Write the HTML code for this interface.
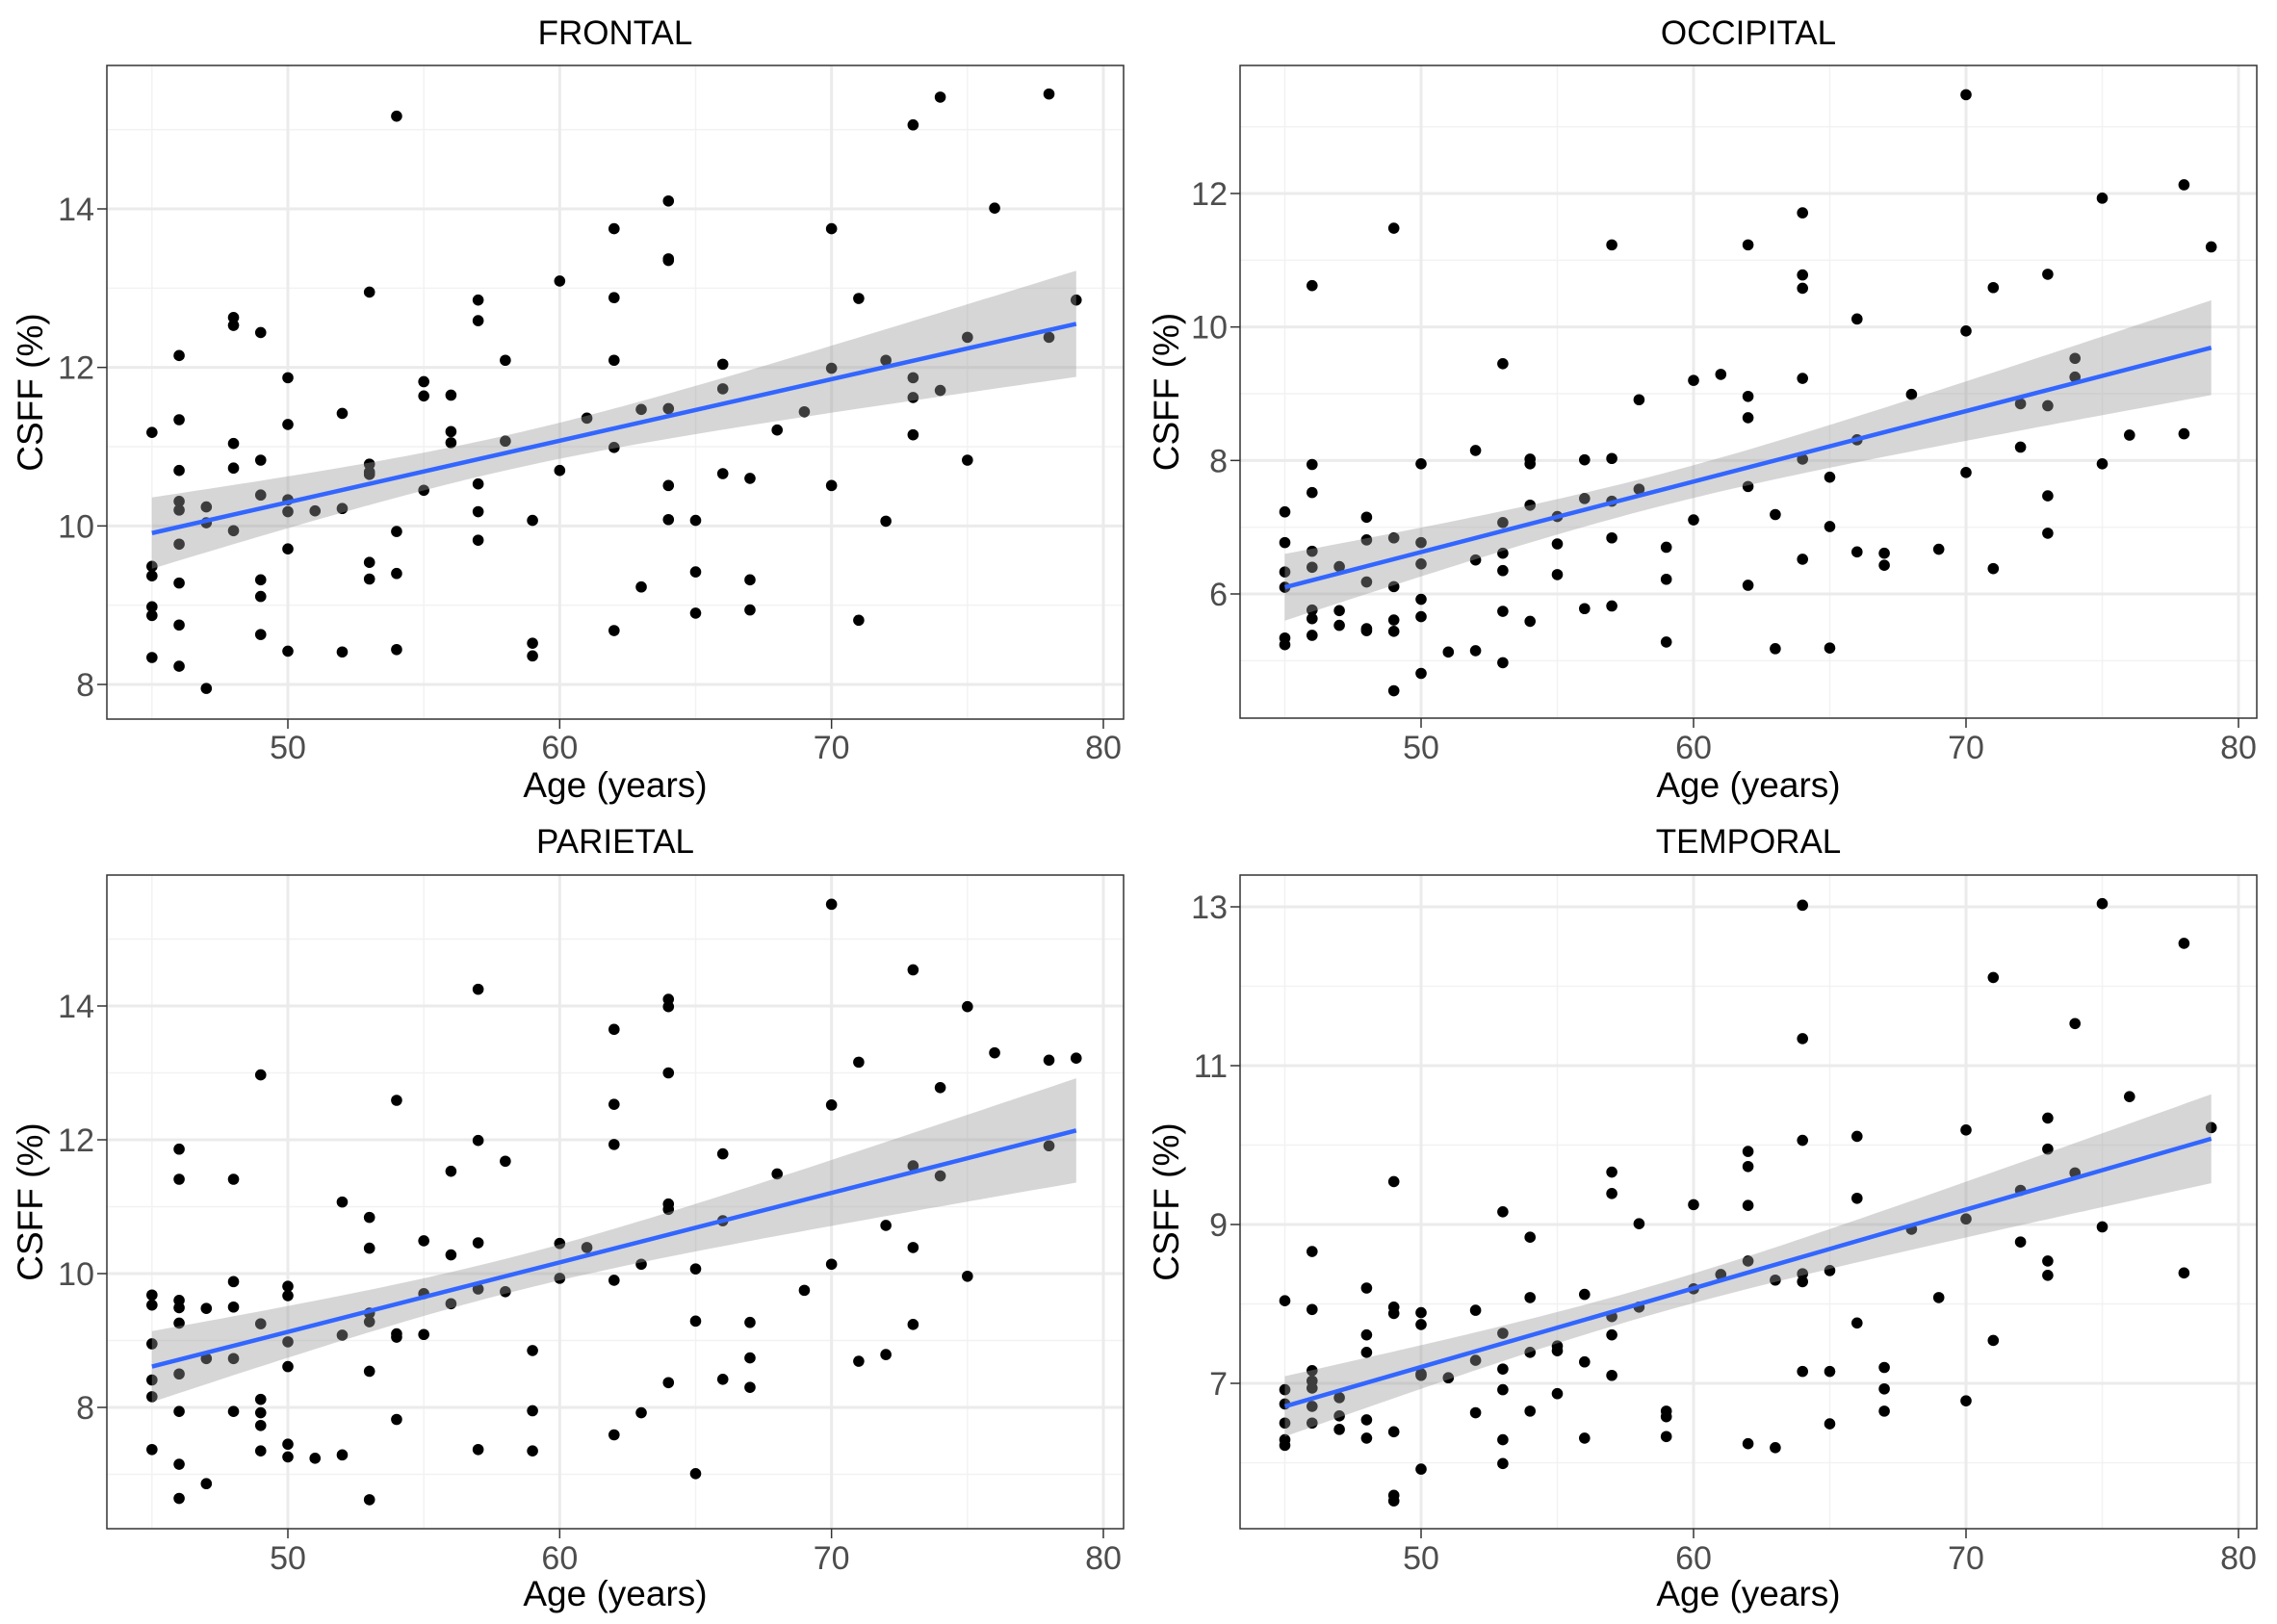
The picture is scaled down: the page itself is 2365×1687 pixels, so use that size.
<!DOCTYPE html>
<html><head><meta charset="utf-8"><style>
html,body{margin:0;padding:0;background:#fff;}
svg{display:block;font-family:"Liberation Sans",Arial,sans-serif;}
</style></head><body>
<svg id="fig" width="2365" height="1687" xmlns="http://www.w3.org/2000/svg"></svg>
<script>
// ---------- DATA ----------
const xTicks = [50, 60, 70, 80];
const xMinor = [45, 55, 65, 75];

const frontalAges = [45,45,45,45,45,45, 46,46,46,46,46,46,46,46,46, 47,47,47, 48,48,48,48,48, 49,49,49,49,49,49, 50,50,50,50,50,50, 51, 52,52,52, 53,53,53,53,53,53, 54,54,54,54, 55,55,55, 56,56,56, 57,57,57,57,57, 58,58, 59,59,59, 60,60, 61, 62,62,62,62,62, 63,63, 64,64,64,64,64,64, 65,65,65, 66,66,66, 67,67,67, 68, 69, 70,70,70, 71,71, 72,72, 73,73,73,73, 74,74, 75,75, 76, 78,78, 79];
const frontalValues = [11.18,9.49,9.37,8.98,8.87,8.34, 12.15,11.34,10.70,10.31,10.20,9.77,9.28,8.75,8.23, 10.24,10.04,7.95, 12.63,12.53,11.04,10.73,9.94, 12.44,10.83,10.39,9.32,9.11,8.63, 11.87,11.28,10.33,10.18,9.71,8.42, 10.19, 11.42,10.22,8.41, 12.95,10.78,10.68,10.65,9.54,9.33, 15.17,9.93,9.40,8.44, 11.82,11.64,10.45, 11.65,11.19,11.05, 12.85,12.59,10.53,10.18,9.82, 12.09,11.07, 10.07,8.52,8.36, 13.09,10.70, 11.36, 13.75,12.88,12.09,10.99,8.68, 11.47,9.23, 14.10,13.37,13.35,11.48,10.51,10.08, 10.07,9.42,8.90, 12.04,11.73,10.66, 10.60,9.32,8.94, 11.21, 11.44, 13.75,11.99,10.51, 12.87,8.81, 12.09,10.06, 15.06,11.87,11.62,11.15, 15.41,11.71, 12.38,10.83, 14.01, 15.45,12.38, 12.85];
const frontalTicks = [8, 10, 12, 14];
const frontalMinor = [9, 11, 13, 15];
const frontalFit = [9.91, 12.55];
const frontalCI = [0.45, 0.22, 0.67];

const occipitalAges = [45,45,45,45,45,45, 46,46,46,46,46,46,46,46, 47,47,47, 48,48,48,48,48, 49,49,49,49,49,49, 50,50,50,50,50,50, 51, 52,52,52, 53,53,53,53,53,53, 54,54,54,54, 55,55,55, 56,56,56, 57,57,57,57,57, 58,58, 59,59,59, 60,60, 61, 62,62,62,62,62, 63,63, 64,64,64,64,64,64, 65,65,65, 66,66,66, 67,67, 68, 69, 70,70,70, 71,71, 72,72, 73,73,73,73, 74,74, 75,75, 76, 78,78, 79];
const occipitalValues = [7.23,6.77,6.33,6.10,5.34,5.24, 10.62,7.94,7.52,6.64,6.40,5.76,5.63,5.38, 6.41,5.75,5.53, 7.15,6.81,6.18,5.48,5.45, 11.48,6.84,6.11,5.61,5.44,4.55, 7.95,6.77,6.45,5.92,5.66,4.81, 5.13, 8.15,6.51,5.15, 9.45,7.07,6.61,6.35,5.74,4.97, 8.02,7.95,7.33,5.59, 7.16,6.75,6.29, 8.01,7.43,5.78, 11.23,8.03,7.39,6.84,5.82, 8.91,7.57, 6.70,6.22,5.28, 9.20,7.11, 9.29, 11.23,8.96,8.64,7.61,6.13, 7.19,5.18, 11.71,10.78,10.58,9.23,8.02,6.52, 7.75,7.01,5.19, 10.12,8.31,6.63, 6.61,6.43, 8.99, 6.67, 13.48,9.94,7.82, 10.59,6.38, 8.85,8.20, 10.79,8.82,7.47,6.91, 9.53,9.25, 11.93,7.95, 8.38, 12.13,8.40, 11.20];
const occipitalTicks = [6, 8, 10, 12];
const occipitalMinor = [5, 7, 9, 11, 13];
const occipitalFit = [6.10, 9.69];
const occipitalCI = [0.50, 0.24, 0.71];

const parietalAges = [45,45,45,45,45,45, 46,46,46,46,46,46,46,46,46, 47,47,47, 48,48,48,48,48, 49,49,49,49,49,49, 50,50,50,50,50,50, 51, 52,52,52, 53,53,53,53,53,53, 54,54,54,54, 55,55,55, 56,56,56, 57,57,57,57,57, 58,58, 59,59,59, 60,60, 61, 62,62,62,62,62, 63,63, 64,64,64,64,64,64, 65,65,65, 66,66,66, 67,67,67, 68, 69, 70,70,70, 71,71, 72,72, 73,73,73,73, 74,74, 75,75, 76, 78,78, 79];
const parietalValues = [9.68,9.53,8.95,8.41,8.16,7.37, 11.86,11.41,9.60,9.49,9.26,8.50,7.94,7.15,6.64, 9.48,8.73,6.86, 11.41,9.88,9.50,8.73,7.94, 12.97,9.25,8.12,7.92,7.73,7.35, 9.81,9.67,8.98,8.61,7.45,7.26, 7.24, 11.07,9.08,7.29, 10.84,10.38,9.41,9.28,8.54,6.62, 12.59,9.10,9.05,7.82, 10.49,9.70,9.09, 11.53,10.28,9.55, 14.25,11.99,10.46,9.77,7.37, 11.68,9.73, 8.85,7.95,7.35, 10.45,9.93, 10.39, 13.65,12.53,11.93,9.90,7.59, 10.14,7.92, 14.10,13.99,13.00,11.04,10.96,8.37, 10.07,9.29,7.01, 11.79,10.79,8.42, 9.27,8.74,8.30, 11.49, 9.75, 15.52,12.52,10.14, 13.16,8.69, 10.72,8.79, 14.54,11.61,10.39,9.24, 12.78,11.46, 13.99,9.96, 13.30, 13.19,11.91, 13.22];
const parietalTicks = [8, 10, 12, 14];
const parietalMinor = [7, 9, 11, 13, 15];
const parietalFit = [8.61, 12.14];
const parietalCI = [0.53, 0.26, 0.78];

const temporalAges = [45,45,45,45,45,45, 46,46,46,46,46,46,46, 47,47,47, 48,48,48,48,48, 49,49,49,49,49,49, 50,50,50,50,50, 51, 52,52,52, 53,53,53,53,53,53, 54,54,54,54, 55,55,55, 56,56,56, 57,57,57,57,57, 58,58, 59,59,59, 60,60, 61, 62,62,62,62,62, 63,63, 64,64,64,64,64,64, 65,65,65, 66,66,66, 67,67,67, 68, 69, 70,70,70, 71,71, 72,72, 73,73,73,73, 74,74, 75,75, 76, 78,78, 79];
const temporalValues = [8.04,6.92,6.74,6.50,6.29,6.22, 8.66,7.93,7.16,7.03,6.94,6.71,6.50, 6.82,6.59,6.42, 8.20,7.61,7.39,6.54,6.31, 9.54,7.96,7.88,6.39,5.59,5.52, 7.89,7.74,7.12,7.10,5.92, 7.07, 7.92,7.29,6.63, 9.16,7.63,7.18,6.92,6.29,5.99, 8.84,8.08,7.39,6.65, 7.47,7.41,6.87, 8.12,7.27,6.31, 9.66,9.39,7.84,7.61,7.10, 9.01,7.96, 6.65,6.58,6.33, 9.25,8.19, 8.37, 9.92,9.73,9.24,8.54,6.24, 8.30,6.19, 13.02,11.34,10.06,8.38,8.28,7.15, 8.42,7.15,6.49, 10.11,9.33,7.76, 7.20,6.93,6.65, 8.94, 8.08, 10.19,9.07,6.78, 12.11,7.54, 9.43,8.78, 10.34,9.95,8.54,8.36, 11.53,9.65, 13.04,8.97, 10.61, 12.54,8.39, 10.22];
const temporalTicks = [7, 9, 11, 13];
const temporalMinor = [6, 8, 10, 12];
const temporalFit = [6.71, 10.08];
const temporalCI = [0.38, 0.18, 0.56];

// ---------- LAYOUT ----------
const NS = "http://www.w3.org/2000/svg";
const svg = document.getElementById('fig');
function mk(tag, attrs, parent){
  const e = document.createElementNS(NS, tag);
  for (const k in attrs) e.setAttribute(k, attrs[k]);
  (parent||svg).appendChild(e); return e;
}

const panels = [
  {key:'frontal', title:'FRONTAL', ages:frontalAges, vals:frontalValues, ticks:frontalTicks, minor:frontalMinor, fit:frontalFit, ci:frontalCI,
   box:[111,68,1167,747], xm:[50,299,80,1146], ym:[14,217,8,711], titleY:46, xtY:788, xlY:828, ylX:44},
  {key:'occipital', title:'OCCIPITAL', ages:occipitalAges, vals:occipitalValues, ticks:occipitalTicks, minor:occipitalMinor, fit:occipitalFit, ci:occipitalCI,
   box:[1288,68,2344,746], xm:[50,1476,80,2325], ym:[12,201,6,617], titleY:46, xtY:788, xlY:828, ylX:1224},
  {key:'parietal', title:'PARIETAL', ages:parietalAges, vals:parietalValues, ticks:parietalTicks, minor:parietalMinor, fit:parietalFit, ci:parietalCI,
   box:[111,909,1167,1588], xm:[50,299,80,1146], ym:[14,1045,8,1462], titleY:886, xtY:1630, xlY:1668, ylX:44},
  {key:'temporal', title:'TEMPORAL', ages:temporalAges, vals:temporalValues, ticks:temporalTicks, minor:temporalMinor, fit:temporalFit, ci:temporalCI,
   box:[1288,909,2344,1588], xm:[50,1476,80,2325], ym:[13,942,7,1437], titleY:886, xtY:1630, xlY:1668, ylX:1224}
];

panels.forEach(p => {
  const [bx0,by0,bx1,by1] = p.box;
  const sx = v => p.xm[1] + (v - p.xm[0]) * (p.xm[3]-p.xm[1])/(p.xm[2]-p.xm[0]);
  const sy = v => p.ym[1] + (v - p.ym[0]) * (p.ym[3]-p.ym[1])/(p.ym[2]-p.ym[0]);
  const g = mk('g', {});
  
  

  const t = mk('text', {x:(bx0+bx1)/2, y:p.titleY, 'text-anchor':'middle', 'font-size':35, fill:'#000'}, g);
  t.textContent = p.title;
  
  

  const grid = mk('g', {}, g);
  
  
  p.minor.forEach(v => mk('line', {x1:bx0, x2:bx1, y1:sy(v), y2:sy(v), stroke:'#f2f2f2', 'stroke-width':1.5}, grid));
  xMinor.forEach(v => mk('line', {x1:sx(v), x2:sx(v), y1:by0, y2:by1, stroke:'#f2f2f2', 'stroke-width':1.5}, grid));
  p.ticks.forEach(v => mk('line', {x1:bx0, x2:bx1, y1:sy(v), y2:sy(v), stroke:'#ebebeb', 'stroke-width':3}, grid));
  xTicks.forEach(v => mk('line', {x1:sx(v), x2:sx(v), y1:by0, y2:by1, stroke:'#ebebeb', 'stroke-width':3}, grid));

  const pts = mk('g', {}, g);
  
  
  p.ages.forEach((a, i) => {
    const c = mk('circle', {cx:sx(a), cy:sy(p.vals[i]), r:5.8, fill:'#000'}, pts);
    
    
  });

  const a0 = 45, a1 = 79;
  const slope = (p.fit[1]-p.fit[0])/(a1-a0);
  const fitAt = a => p.fit[0] + slope*(a-a0);
  const h0 = p.ci[0], hm = p.ci[1], h1 = p.ci[2];
  const r = Math.sqrt((h1*h1-hm*hm)/(h0*h0-hm*hm));
  const xc = (a1 + r*a0)/(1+r);
  const b = (h0*h0-hm*hm)/((a0-xc)*(a0-xc));
  const hw = a => Math.sqrt(hm*hm + b*(a-xc)*(a-xc));
  let up = [], lo = [];
  for (let k = 0; k <= 80; k++) {
    const a = a0 + (a1-a0)*k/80;
    up.push(sx(a).toFixed(1)+','+sy(fitAt(a)+hw(a)).toFixed(1));
    lo.push(sx(a).toFixed(1)+','+sy(fitAt(a)-hw(a)).toFixed(1));
  }
  const band = mk('polygon', {points: up.concat(lo.reverse()).join(' '), fill:'#999999', 'fill-opacity':0.4}, g);
  
  
  const ln = mk('line', {x1:sx(a0), y1:sy(fitAt(a0)), x2:sx(a1), y2:sy(fitAt(a1)), stroke:'#3366FF', 'stroke-width':4.5}, g);
  
  

  const border = mk('rect', {x:bx0, y:by0, width:bx1-bx0, height:by1-by0, fill:'none', stroke:'#333', 'stroke-width':1.5}, g);
  
  

  const yax = mk('g', {}, g);
  
  
  p.ticks.forEach(v => {
    mk('line', {x1:bx0-10, x2:bx0, y1:sy(v), y2:sy(v), stroke:'#333', 'stroke-width':1.5}, yax);
    const tl = mk('text', {x:bx0-13, y:sy(v)+12, 'text-anchor':'end', 'font-size':34, fill:'#4d4d4d'}, yax);
    tl.textContent = v;
    
    
  });
  const xax = mk('g', {}, g);
  
  
  xTicks.forEach(v => {
    mk('line', {x1:sx(v), x2:sx(v), y1:by1, y2:by1+10, stroke:'#333', 'stroke-width':1.5}, xax);
    const tl = mk('text', {x:sx(v), y:p.xtY, 'text-anchor':'middle', 'font-size':34, fill:'#4d4d4d'}, xax);
    tl.textContent = v;
    
    
  });
  const xl = mk('text', {x:(bx0+bx1)/2, y:p.xlY, 'text-anchor':'middle', 'font-size':37, fill:'#000'}, g);
  xl.textContent = 'Age (years)';
  
  
  const cy = (by0+by1)/2;
  const yl = mk('text', {x:p.ylX, y:cy, 'text-anchor':'middle', 'font-size':37, fill:'#000', transform:'rotate(-90 '+p.ylX+' '+cy+')'}, g);
  yl.textContent = 'CSFF (%)';
  
  
});
</script>
</body></html>
